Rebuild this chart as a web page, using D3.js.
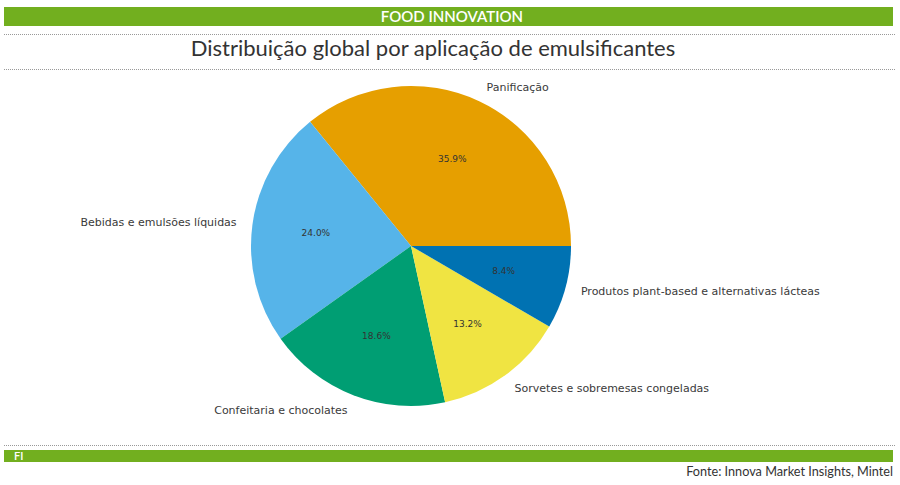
<!DOCTYPE html>
<html>
  <head>
    <meta charset="utf-8">
    <title>Distribuição global por aplicação de emulsificantes</title>
    <script src="https://d3js.org/d3.v7.min.js"></script>
    <style>
      body { margin: 0; background: #fff; }
      .lbl { font-family: "DejaVu Sans", sans-serif; font-size: 11px; fill: #3a3a3a; }
      .pct { font-family: "DejaVu Sans", sans-serif; font-size: 9px; fill: #333; }
      .hdr { font-family: "Lato", "DejaVu Sans", sans-serif; }
    </style>
  </head>
  <body>
    <svg width="900" height="485"></svg>
    <script>
      var categories = ["Panificação", "Bebidas e emulsões líquidas", "Confeitaria e chocolates",
                        "Sorvetes e sobremesas congeladas", "Produtos plant-based e alternativas lácteas"];
      var values = [35.9, 24.0, 18.6, 13.2, 8.4];
      var colors = ["#E69F00", "#56B4E9", "#009E73", "#F0E442", "#0072B2"];

      var svg = d3.select("svg");

      // header
      svg.append("rect").attr("x", 4).attr("y", 7).attr("width", 889).attr("height", 19).attr("fill", "#72AF1F");
      svg.append("text").attr("class", "hdr").attr("x", 452).attr("y", 22)
          .attr("text-anchor", "middle").attr("fill", "#fff").attr("font-size", 15).attr("font-weight", 600)
          .text("FOOD INNOVATION");
      [34, 69, 445].forEach(function(y) {
        svg.append("line").attr("x1", 4).attr("x2", 896).attr("y1", y + 0.5).attr("y2", y + 0.5)
            .attr("stroke", "#999").attr("stroke-dasharray", "1,1");
      });
      svg.append("text").attr("class", "hdr").attr("x", 433).attr("y", 56)
          .attr("text-anchor", "middle").attr("fill", "#333").attr("font-size", 22)
          .text("Distribuição global por aplicação de emulsificantes");

      // footer
      svg.append("rect").attr("x", 4).attr("y", 450).attr("width", 889).attr("height", 12).attr("fill", "#72AF1F");
      svg.append("text").attr("class", "hdr").attr("x", 14).attr("y", 460)
          .attr("fill", "#fff").attr("font-size", 11).attr("font-weight", 600).text("FI");
      svg.append("text").attr("class", "hdr").attr("x", 893).attr("y", 476)
          .attr("text-anchor", "end").attr("fill", "#333").attr("font-size", 12.7)
          .text("Fonte: Innova Market Insights, Mintel");

      // pie: counterclockwise from east, like matplotlib startangle=0
      var cx = 411, cy = 246, r = 160;
      var g = svg.append("g").attr("transform", "translate(" + cx + "," + cy + ")");
      var pie = d3.pie().sort(null)
          .startAngle(Math.PI / 2).endAngle(Math.PI / 2 - 2 * Math.PI);
      var arcs = pie(values);
      var arc = d3.arc().innerRadius(0).outerRadius(r);

      g.selectAll("path").data(arcs).enter().append("path")
          .attr("d", arc)
          .attr("fill", function(d, i) { return colors[i]; });

      function pos(d, k) {
        var a = (d.startAngle + d.endAngle) / 2;
        return [k * r * Math.sin(a), -k * r * Math.cos(a)];
      }

      g.selectAll(".pct").data(arcs).enter().append("text")
          .attr("class", "pct")
          .attr("x", function(d) { return pos(d, 0.6)[0]; })
          .attr("y", function(d) { return pos(d, 0.6)[1]; })
          .attr("text-anchor", "middle").attr("dominant-baseline", "central")
          .text(function(d) { return d.value.toFixed(1) + "%"; });

      g.selectAll(".lbl").data(arcs).enter().append("text")
          .attr("class", "lbl")
          .attr("x", function(d) { return pos(d, 1.1)[0]; })
          .attr("y", function(d) { return pos(d, 1.1)[1]; })
          .attr("text-anchor", function(d) { return pos(d, 1.1)[0] > 0 ? "start" : "end"; })
          .attr("dominant-baseline", "central")
          .text(function(d, i) { return categories[i]; });
    </script>
  </body>
</html>
